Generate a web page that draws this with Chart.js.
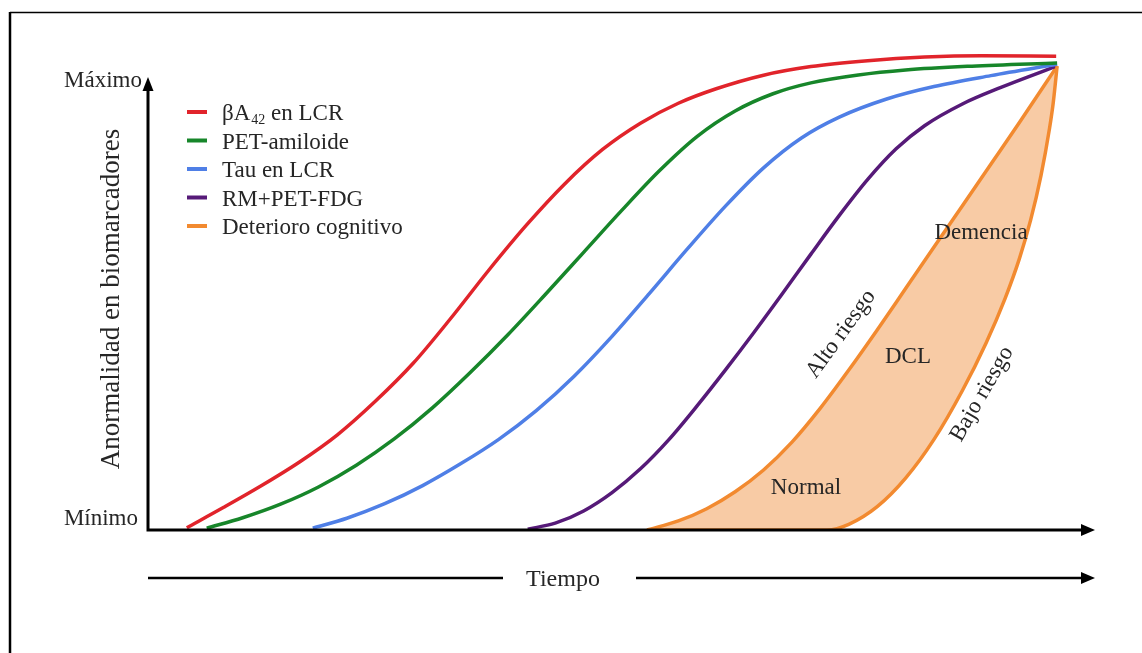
<!DOCTYPE html>
<html lang="es">
<head>
    <meta charset="UTF-8">
    <title>Biomarcadores</title>
    <script src="https://cdn.jsdelivr.net/npm/chart.js"></script>
    <style>
        * {
            margin: 0;
            padding: 0;
            box-sizing: border-box;
        }

        body {
            background-color: #ffffff;
            overflow: hidden;
        }

        #chart-container {
            width: 1142px;
            height: 653px;
        }
    </style>
</head>
<body>
    <div id="chart-container">
        <canvas id="bioChart"></canvas>
    </div>

    <script>
        // Serie names (legend)
        const seriesLabels = ['βA42 en LCR', 'PET-amiloide', 'Tau en LCR', 'RM+PET-FDG', 'Deterioro cognitivo'];
        const seriesColors = ['#e1242b', '#17862a', '#4f7fe6', '#561a78', '#f28a30'];
        const cogFill = '#f8cba5';

        // Axis labels
        const yMinLabel = 'Mínimo';
        const yMaxLabel = 'Máximo';
        const yTitle = 'Anormalidad en biomarcadores';
        const xTitle = 'Tiempo';

        // Curves: time (0-100) vs abnormality (0 = mínimo, 100 = máximo)
        const abX = [4.1, 8, 12, 16, 20, 24, 28, 32, 36, 40, 44, 48, 52, 56, 60, 65, 70, 76, 82, 88, 95.9];
        const abY = [0.5, 5.0, 9.8, 15.0, 21.0, 28.4, 36.8, 46.8, 57.4, 67.4, 76.4, 84.0, 89.8, 94.2, 97.4, 100.4, 102.3, 103.6, 104.4, 104.7, 104.6];

        const petX = [6.2, 10, 14, 18, 22, 26, 30, 34, 38, 42, 46, 50, 54, 58, 62, 66, 70, 75, 80, 87, 96];
        const petY = [0.4, 2.7, 5.7, 9.5, 14.3, 20.1, 26.9, 34.7, 43.1, 52.1, 61.3, 70.5, 79.3, 86.9, 92.5, 96.3, 98.7, 100.45, 101.55, 102.4, 103.1];

        const tauX = [17.4, 21, 25, 29, 33, 37, 41, 45, 49, 53, 57, 61, 65, 69, 73, 78, 83, 89, 96];
        const tauY = [0.4, 2.6, 5.8, 9.8, 14.6, 19.95, 26.35, 33.95, 42.75, 52.35, 62.15, 71.55, 79.95, 86.55, 91.15, 95.15, 97.9, 100.3, 102.8];

        const fdgX = [40.1, 43, 46, 49, 52, 55, 58, 61, 64, 67, 70, 73, 76, 79, 82, 86, 90, 96];
        const fdgY = [0.2, 1.5, 4.2, 8.25, 13.5, 19.95, 27.45, 35.4, 43.65, 52.2, 60.9, 69.45, 77.4, 84.15, 89.25, 94.05, 97.65, 102.45];

        // Deterioro cognitivo: alto riesgo (upper edge) and bajo riesgo (lower edge)
        const highX = [52.7, 56, 59, 62, 65, 68, 71, 74, 77, 80, 83, 86, 89, 92, 96];
        const highY = [0, 2.0, 4.7, 8.45, 13.25, 19.4, 26.9, 35.3, 44.15, 53.3, 62.45, 71.6, 80.75, 89.9, 102.4];

        const lowX = [52.7, 71.7, 74, 77, 80, 83, 86, 88.5, 90.5, 92, 93.2, 94.3, 95.2, 95.6, 96];
        const lowY = [0, 0, 1.25, 5.15, 11.45, 20.0, 30.8, 41.3, 51.1, 59.8, 68.4, 78.3, 88.7, 94.5, 102.4];

        // Texts inside the plot
        const stageLabels = ['Normal', 'DCL', 'Demencia'];
        const riskLabels = ['Alto riesgo', 'Bajo riesgo'];

        const SERIF = '"Liberation Serif", "Times New Roman", serif';
        const INK = '#262626';

        function pts(xs, ys) {
            return xs.map((x, i) => ({ x: x, y: ys[i] }));
        }

        function curve(xs, ys, color, extra) {
            return Object.assign({
                data: pts(xs, ys),
                borderColor: color,
                borderWidth: 3.5,
                pointRadius: 0,
                fill: false,
                cubicInterpolationMode: 'monotone',
            }, extra || {});
        }

        function arrowHead(ctx, tipX, tipY, dx, dy, len, half) {
            // dx, dy = unit direction of the arrow
            const bx = tipX - dx * len;
            const by = tipY - dy * len;
            ctx.beginPath();
            ctx.moveTo(tipX, tipY);
            ctx.lineTo(bx - dy * half, by + dx * half);
            ctx.lineTo(bx + dy * half, by - dx * half);
            ctx.closePath();
            ctx.fill();
        }

        const decorPlugin = {
            id: 'decor',
            afterDatasetsDraw(chart) {
                const ctx = chart.ctx;
                const xs = chart.scales.x;
                const ys = chart.scales.y;
                const X = (u) => xs.getPixelForValue(u);
                const Y = (v) => ys.getPixelForValue(v);

                ctx.save();

                // frame (top and left)
                ctx.strokeStyle = '#000';
                ctx.lineWidth = 1.5;
                ctx.beginPath();
                ctx.moveTo(10, 12.5);
                ctx.lineTo(1142, 12.5);
                ctx.stroke();
                ctx.lineWidth = 2.5;
                ctx.beginPath();
                ctx.moveTo(10, 12);
                ctx.lineTo(10, 653);
                ctx.stroke();

                // axes
                const x0 = X(0), y0 = Y(0), yTop = Y(100), xEnd = X(100);
                ctx.fillStyle = '#000';
                ctx.lineWidth = 3;
                ctx.beginPath();
                ctx.moveTo(x0, yTop + 10);
                ctx.lineTo(x0, y0);
                ctx.lineTo(xEnd - 10, y0);
                ctx.stroke();
                arrowHead(ctx, x0, yTop, 0, -1, 14, 5.5);
                arrowHead(ctx, xEnd, y0, 1, 0, 14, 6);

                // time arrow
                const yt = y0 + 48;
                ctx.lineWidth = 2.5;
                ctx.beginPath();
                ctx.moveTo(x0, yt);
                ctx.lineTo(503, yt);
                ctx.moveTo(636, yt);
                ctx.lineTo(xEnd - 10, yt);
                ctx.stroke();
                arrowHead(ctx, xEnd, yt, 1, 0, 14, 6);

                ctx.fillStyle = INK;
                ctx.font = '24px ' + SERIF;
                ctx.textAlign = 'center';
                ctx.textBaseline = 'middle';
                ctx.fillText(xTitle, 563, yt + 2);

                // min / max labels
                ctx.font = '23px ' + SERIF;
                ctx.textAlign = 'right';
                ctx.textBaseline = 'alphabetic';
                ctx.fillText(yMaxLabel, x0 - 6, yTop + 10);
                ctx.fillText(yMinLabel, x0 - 10, y0 - 5);

                // y title
                ctx.save();
                ctx.translate(119, 299);
                ctx.rotate(-Math.PI / 2);
                ctx.textAlign = 'center';
                ctx.font = '27px ' + SERIF;
                ctx.fillText(yTitle, 0, 0);
                ctx.restore();

                // legend
                ctx.textAlign = 'left';
                seriesLabels.forEach((label, i) => {
                    const my = 112 + 28.5 * i;
                    ctx.strokeStyle = seriesColors[i];
                    ctx.lineWidth = 4;
                    ctx.beginPath();
                    ctx.moveTo(187, my);
                    ctx.lineTo(207, my);
                    ctx.stroke();
                    ctx.fillStyle = INK;
                    const base = my + 8;
                    if (i === 0) {
                        ctx.font = '23px ' + SERIF;
                        ctx.fillText('βA', 222, base);
                        let w = ctx.measureText('βA').width;
                        ctx.font = '14px ' + SERIF;
                        ctx.fillText('42', 222 + w + 1, base + 4);
                        w += ctx.measureText('42').width + 1;
                        ctx.font = '23px ' + SERIF;
                        ctx.fillText(' en LCR', 222 + w, base);
                    } else {
                        ctx.font = '23px ' + SERIF;
                        ctx.fillText(label, 222, base);
                    }
                });

                // stage labels
                ctx.fillStyle = INK;
                ctx.font = '23px ' + SERIF;
                ctx.textAlign = 'center';
                ctx.textBaseline = 'middle';
                ctx.fillText(stageLabels[0], 806, 488);
                ctx.fillText(stageLabels[1], 908, 357);
                ctx.fillText(stageLabels[2], 981, 233);

                ctx.save();
                ctx.translate(841, 334);
                ctx.rotate(-54 * Math.PI / 180);
                ctx.fillText(riskLabels[0], 0, 0);
                ctx.restore();

                ctx.save();
                ctx.translate(982, 394);
                ctx.rotate(-60 * Math.PI / 180);
                ctx.fillText(riskLabels[1], 0, 0);
                ctx.restore();

                ctx.restore();
            }
        };

        const ctx = document.getElementById('bioChart').getContext('2d');
        const bioChart = new Chart(ctx, {
            type: 'line',
            data: {
                datasets: [
                    curve(abX, abY, seriesColors[0]),
                    curve(petX, petY, seriesColors[1]),
                    curve(tauX, tauY, seriesColors[2]),
                    curve(fdgX, fdgY, seriesColors[3]),
                    curve(highX, highY, seriesColors[4], { fill: 5, backgroundColor: cogFill }),
                    curve(lowX, lowY, seriesColors[4], { order: -1 }),
                ],
            },
            options: {
                responsive: true,
                maintainAspectRatio: false,
                animation: false,
                events: [],
                layout: {
                    padding: { left: 148, right: 47, top: 530 - 110 * 4.53, bottom: 123 },
                },
                scales: {
                    x: { type: 'linear', min: 0, max: 100, display: false },
                    y: { type: 'linear', min: 0, max: 110, display: false },
                },
                plugins: {
                    legend: { display: false },
                    tooltip: { enabled: false },
                },
            },
            plugins: [decorPlugin],
        });
    </script>
</body>
</html>
